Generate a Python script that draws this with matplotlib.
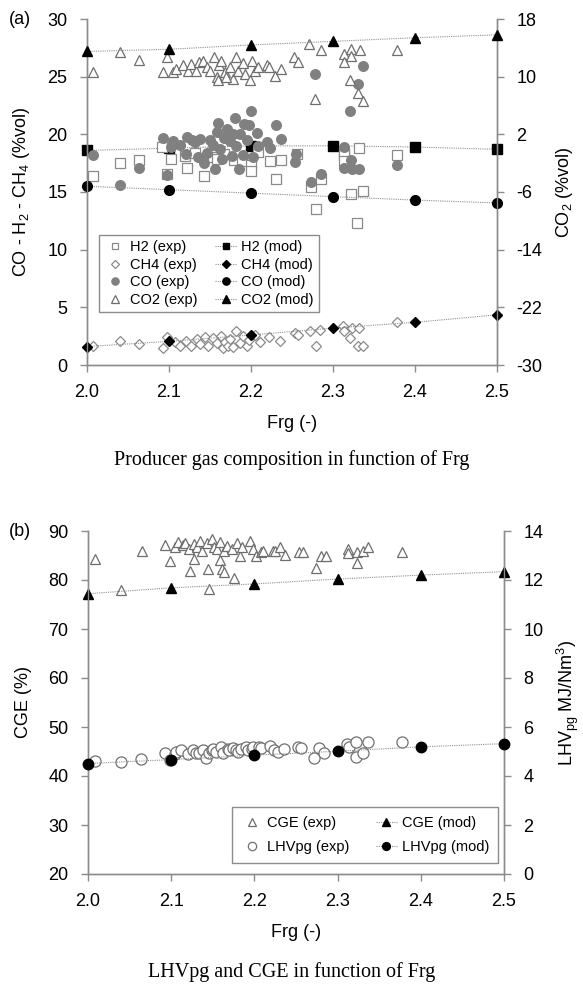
import matplotlib
matplotlib.use("Agg")
import matplotlib.pyplot as plt

plt.rcParams['font.family'] = ['Liberation Sans', 'DejaVu Sans']
plt.rcParams['mathtext.fontset'] = 'custom'
plt.rcParams['mathtext.rm'] = 'Liberation Sans'
plt.rcParams['mathtext.it'] = 'Liberation Sans'
plt.rcParams['axes.unicode_minus'] = False

# ---- model points (Frg = 2.0 ... 2.5) ----
frg_mod = [2.0, 2.1, 2.2, 2.3, 2.4, 2.5]
h2_mod = [18.6, 18.8, 19.0, 19.0, 18.9, 18.7]
ch4_mod = [1.6, 2.05, 2.6, 3.2, 3.7, 4.35]
co_mod = [15.5, 15.2, 14.9, 14.6, 14.3, 14.05]
co2_mod = [13.5, 13.8, 14.4, 14.9, 15.4, 15.8]
cge_mod = [77.2, 78.4, 79.2, 80.2, 81.0, 81.7]
lhv_mod = [4.51, 4.67, 4.85, 5.01, 5.19, 5.32]

# ---- experimental points ----
h2_x = [2.007, 2.04, 2.064, 2.092, 2.102, 2.097, 2.12, 2.122, 2.132, 2.143,
        2.154, 2.158, 2.167, 2.179, 2.189, 2.2, 2.2, 2.209, 2.223, 2.23,
        2.236, 2.256, 2.273, 2.279, 2.285, 2.313, 2.313, 2.313, 2.322, 2.329,
        2.332, 2.336, 2.378]
h2_y = [16.4, 17.5, 17.8, 18.9, 17.9, 16.6, 18.1, 17.05, 18.4, 16.4,
        18.0, 17.9, 18.3, 17.8, 17.7, 17.3, 16.8, 18.5, 17.7, 16.1,
        17.8, 18.3, 15.4, 13.5, 16.1, 18.5, 18.2, 17.7, 14.8, 12.3,
        18.8, 15.1, 18.2]

ch4_x = [2.007, 2.04, 2.064, 2.097, 2.093, 2.107, 2.113, 2.121, 2.127, 2.134,
         2.138, 2.144, 2.148, 2.154, 2.158, 2.163, 2.166, 2.168, 2.172, 2.175,
         2.178, 2.182, 2.186, 2.19, 2.195, 2.198, 2.205, 2.211, 2.222, 2.235,
         2.254, 2.257, 2.272, 2.279, 2.284, 2.312, 2.313, 2.321, 2.323, 2.331,
         2.332, 2.337, 2.378]
ch4_y = [1.62, 2.05, 1.85, 2.43, 1.47, 1.97, 1.68, 2.05, 1.62, 2.25,
         1.85, 2.43, 1.68, 2.34, 1.9, 2.48, 1.47, 1.97, 1.62, 2.25,
         1.56, 2.92, 1.9, 2.48, 1.68, 2.2, 2.63, 1.97, 2.43, 2.05,
         2.77, 2.63, 2.92, 1.62, 3.06, 3.41, 2.92, 2.34, 3.2, 1.68,
         3.2, 1.62, 3.7]

co_x = [2.007, 2.04, 2.064, 2.098, 2.093, 2.103, 2.105, 2.113, 2.122, 2.121,
        2.128, 2.132, 2.135, 2.138, 2.143, 2.146, 2.15, 2.154, 2.156, 2.158,
        2.16, 2.162, 2.165, 2.167, 2.171, 2.175, 2.177, 2.178, 2.181, 2.182,
        2.185, 2.187, 2.19, 2.191, 2.195, 2.198, 2.2, 2.202, 2.207, 2.209,
        2.22, 2.223, 2.23, 2.236, 2.255, 2.254, 2.273, 2.278, 2.285, 2.313,
        2.313, 2.321, 2.322, 2.323, 2.33, 2.332, 2.337, 2.378]
co_y = [18.2, 15.6, 17.05, 16.5, 19.66, 18.86, 19.4, 19.1, 19.8, 18.3,
        19.5, 19.3, 18.0, 19.6, 17.5, 18.4, 19.5, 19.1, 17.0, 20.2,
        21.0, 18.7, 17.9, 19.7, 20.5, 19.4, 18.1, 20.05, 21.4, 19.0,
        17.0, 20.05, 18.2, 20.9, 19.5, 20.8, 22.0, 18.0, 20.1, 19.0,
        19.3, 18.8, 20.8, 19.6, 18.3, 17.6, 15.85, 25.2, 16.6, 18.9,
        17.1, 22.05, 17.8, 17.0, 24.4, 17.0, 25.9, 17.3]

# CO2 on the right axis
co2_x = [2.007, 2.04, 2.063, 2.098, 2.093, 2.105, 2.109, 2.117, 2.123, 2.127,
         2.133, 2.136, 2.142, 2.146, 2.15, 2.155, 2.158, 2.161, 2.164, 2.168,
         2.174, 2.178, 2.182, 2.184, 2.19, 2.193, 2.199, 2.201, 2.205, 2.209,
         2.219, 2.222, 2.229, 2.236, 2.16, 2.17, 2.252, 2.257, 2.271, 2.278,
         2.285, 2.313, 2.313, 2.322, 2.322, 2.333, 2.321, 2.33, 2.337, 2.378]
co2_y = [10.64, 13.36, 12.32, 12.72, 10.64, 10.64, 11.09, 11.55, 10.77, 11.78,
         10.85, 12.0, 12.24, 11.31, 10.77, 12.7, 9.94, 11.55, 12.24, 10.62,
         11.31, 9.7, 12.7, 10.85, 11.87, 10.38, 9.47, 12.24, 10.85, 11.31,
         11.55, 11.31, 10.16, 11.09, 9.57, 9.94, 12.7, 12.0, 14.54, 6.93,
         13.68, 13.2, 12.0, 13.84, 12.88, 13.68, 9.52, 7.76, 6.64, 13.68]

cge_x = [2.008, 2.04, 2.065, 2.093, 2.098, 2.105, 2.108, 2.114, 2.117, 2.123,
         2.121, 2.127, 2.128, 2.131, 2.135, 2.137, 2.143, 2.144, 2.145, 2.149,
         2.151, 2.155, 2.159, 2.159, 2.161, 2.163, 2.164, 2.167, 2.173, 2.176,
         2.179, 2.183, 2.185, 2.195, 2.198, 2.202, 2.208, 2.21, 2.222, 2.225,
         2.231, 2.237, 2.254, 2.258, 2.274, 2.28, 2.286, 2.313, 2.313, 2.323,
         2.323, 2.331, 2.337, 2.378]
cge_y = [84.2, 78.05, 86.0, 87.2, 83.8, 86.7, 87.7, 87.1, 87.5, 81.8,
         86.4, 87.4, 84.3, 86.7, 88.0, 86.0, 87.5, 82.3, 78.2, 88.4,
         86.7, 86.4, 87.7, 84.0, 82.3, 81.6, 86.0, 86.9, 86.4, 80.4,
         87.5, 84.8, 86.7, 88.0, 86.4, 85.0, 85.7, 86.0, 86.0, 86.0,
         86.7, 85.2, 85.7, 85.7, 82.5, 85.0, 85.0, 86.4, 85.5, 85.7,
         83.4, 86.0, 86.7, 85.8]

lhv_x = [2.008, 2.04, 2.064, 2.092, 2.098, 2.104, 2.106, 2.112, 2.12, 2.126,
         2.13, 2.134, 2.138, 2.142, 2.145, 2.149, 2.15, 2.154, 2.16, 2.162,
         2.168, 2.17, 2.174, 2.178, 2.18, 2.184, 2.19, 2.192, 2.197, 2.198,
         2.206, 2.208, 2.219, 2.223, 2.228, 2.236, 2.252, 2.256, 2.272, 2.278,
         2.284, 2.311, 2.314, 2.322, 2.322, 2.331, 2.337, 2.378]
lhv_y = [4.62, 4.58, 4.71, 4.94, 4.67, 4.89, 4.98, 5.05, 4.89, 5.05,
         4.92, 4.94, 5.05, 4.75, 4.94, 5.05, 5.12, 4.98, 5.19, 4.94,
         5.12, 5.05, 5.16, 5.05, 4.98, 5.12, 5.19, 5.05, 5.12, 5.19,
         5.19, 5.16, 5.22, 5.08, 4.98, 5.12, 5.19, 5.16, 4.75, 5.16,
         4.92, 5.32, 5.19, 5.39, 4.78, 4.94, 5.39, 5.39]

frg_ticks = [2.0, 2.1, 2.2, 2.3, 2.4, 2.5]

AX_GRAY = '#8c8c8c'
LINE_GRAY = '#909090'
FS = 13


def style_axes(ax):
    ax.spines['top'].set_visible(False)
    for s in ['left', 'right', 'bottom']:
        ax.spines[s].set_color(AX_GRAY)
        ax.spines[s].set_linewidth(1.0)
    ax.tick_params(direction='out', length=5, width=1, color=AX_GRAY,
                   labelsize=FS, pad=9)
    ax.set_facecolor('none')


def model_line(ax, x, y, marker, ms, label):
    ln, = ax.plot(x, y, color=LINE_GRAY, lw=0.8, ls=(0, (1, 1)),
                  marker=marker, ms=ms, mfc='black', mec='black',
                  clip_on=False, label=label, zorder=4)
    return ln


def exp_pts(ax, x, y, marker, ms, fc, ec, label):
    ln, = ax.plot(x, y, ls='none', marker=marker, ms=ms, mfc=fc, mec=ec,
                  mew=0.9, clip_on=False, label=label, zorder=3)
    return ln


fig = plt.figure(figsize=(5.83, 9.86), dpi=100)

# ------------------------------- (a) -------------------------------
ax1 = fig.add_axes([87 / 583, 1 - 365 / 986, 410 / 583, 346 / 986])
ax1b = ax1.twinx()
style_axes(ax1)
style_axes(ax1b)

l_h2m = model_line(ax1, frg_mod, h2_mod, 's', 6.5, 'H2 (mod)')
l_h2m.set_zorder(2)
l_h2e = exp_pts(ax1, h2_x, h2_y, 's', 6.5, 'white', '#8a8a8a', 'H2 (exp)')
l_ch4e = exp_pts(ax1, ch4_x, ch4_y, 'D', 5, 'white', '#8a8a8a', 'CH4 (exp)')
l_coe = exp_pts(ax1, co_x, co_y, 'o', 7, '#808080', '#808080', 'CO (exp)')
l_ch4m = model_line(ax1, frg_mod, ch4_mod, 'D', 5, 'CH4 (mod)')
l_com = model_line(ax1, frg_mod, co_mod, 'o', 7, 'CO (mod)')
l_co2e = exp_pts(ax1b, co2_x, co2_y, '^', 7.5, 'white', '#6e6e6e', 'CO2 (exp)')
l_co2m = model_line(ax1b, frg_mod, co2_mod, '^', 7, 'CO2 (mod)')

ax1.set_xlim(2.0, 2.5)
ax1.set_ylim(0, 30)
ax1b.set_ylim(-30, 18)
ax1.set_xticks(frg_ticks)
ax1.set_xticklabels(['%.1f' % t for t in frg_ticks])
ax1.set_yticks(range(0, 31, 5))
ax1b.set_yticks(range(-30, 19, 8))
ax1.set_xlabel('Frg (-)', fontsize=FS, labelpad=10)
ax1.set_ylabel('CO - H$_2$ - CH$_4$ (%vol)', fontsize=FS)
ax1.yaxis.set_label_coords(-0.135, 0.5)
ax1b.set_ylabel('CO$_2$ (%vol)', fontsize=FS)
ax1b.yaxis.set_label_coords(1.14, 0.5)

leg1 = ax1b.legend([l_h2e, l_ch4e, l_coe, l_co2e, l_h2m, l_ch4m, l_com, l_co2m],
                   ['H2 (exp)', 'CH4 (exp)', 'CO (exp)', 'CO2 (exp)',
                    'H2 (mod)', 'CH4 (mod)', 'CO (mod)', 'CO2 (mod)'],
                   ncol=2, loc='upper left', bbox_to_anchor=(0.029, 0.376),
                   borderaxespad=0, fontsize=10.5, markerscale=0.75,
                   handlelength=1.5, handletextpad=0.3, columnspacing=1.2,
                   labelspacing=0.25, borderpad=0.35, fancybox=False,
                   framealpha=1, edgecolor=AX_GRAY)
leg1.get_frame().set_linewidth(1.0)

fig.text(20 / 583, 1 - 19 / 986, '(a)', fontsize=FS, ha='center', va='center')

# ------------------------------- (b) -------------------------------
ax2 = fig.add_axes([88 / 583, 1 - 874 / 986, 416 / 583, 343 / 986])
ax2b = ax2.twinx()
style_axes(ax2)
style_axes(ax2b)

l_cgee = exp_pts(ax2, cge_x, cge_y, '^', 7.5, 'white', '#6e6e6e', 'CGE (exp)')
l_cgem = model_line(ax2, frg_mod, cge_mod, '^', 7, 'CGE (mod)')
l_lhve = exp_pts(ax2b, lhv_x, lhv_y, 'o', 8, 'white', '#707070', 'LHVpg (exp)')
l_lhvm = model_line(ax2b, frg_mod, lhv_mod, 'o', 7.5, 'LHVpg (mod)')

ax2.set_xlim(2.0, 2.5)
ax2.set_ylim(20, 90)
ax2b.set_ylim(0, 14)
ax2.set_xticks(frg_ticks)
ax2.set_xticklabels(['%.1f' % t for t in frg_ticks])
ax2.set_yticks(range(20, 91, 10))
ax2b.set_yticks(range(0, 15, 2))
ax2.set_xlabel('Frg (-)', fontsize=FS, labelpad=10)
ax2.set_ylabel('CGE (%)', fontsize=FS)
ax2.yaxis.set_label_coords(-0.135, 0.5)
ax2b.set_ylabel('LHV$_{pg}$ MJ/Nm$^3$)', fontsize=FS)
ax2b.yaxis.set_label_coords(1.122, 0.5)

leg2 = ax2b.legend([l_cgee, l_lhve, l_cgem, l_lhvm],
                   ['CGE (exp)', 'LHVpg (exp)', 'CGE (mod)', 'LHVpg (mod)'],
                   ncol=2, loc='upper left', bbox_to_anchor=(0.346, 0.195),
                   borderaxespad=0, fontsize=10.5, markerscale=0.75,
                   handlelength=1.5, handletextpad=0.3, columnspacing=1.8,
                   labelspacing=0.7, borderpad=0.6, fancybox=False,
                   framealpha=1, edgecolor=AX_GRAY)
leg2.get_frame().set_linewidth(1.0)

fig.text(20 / 583, 1 - 532 / 986, '(b)', fontsize=FS, ha='center', va='center')

# captions
fig.text(0.5, 1 - 460 / 986, 'Producer gas composition in function of Frg',
         fontsize=14.5, family='Liberation Serif', ha='center', va='center')
fig.text(0.5, 1 - 972 / 986, 'LHVpg and CGE in function of Frg',
         fontsize=14.5, family='Liberation Serif', ha='center', va='center')

fig.savefig('out.png', dpi=100)
